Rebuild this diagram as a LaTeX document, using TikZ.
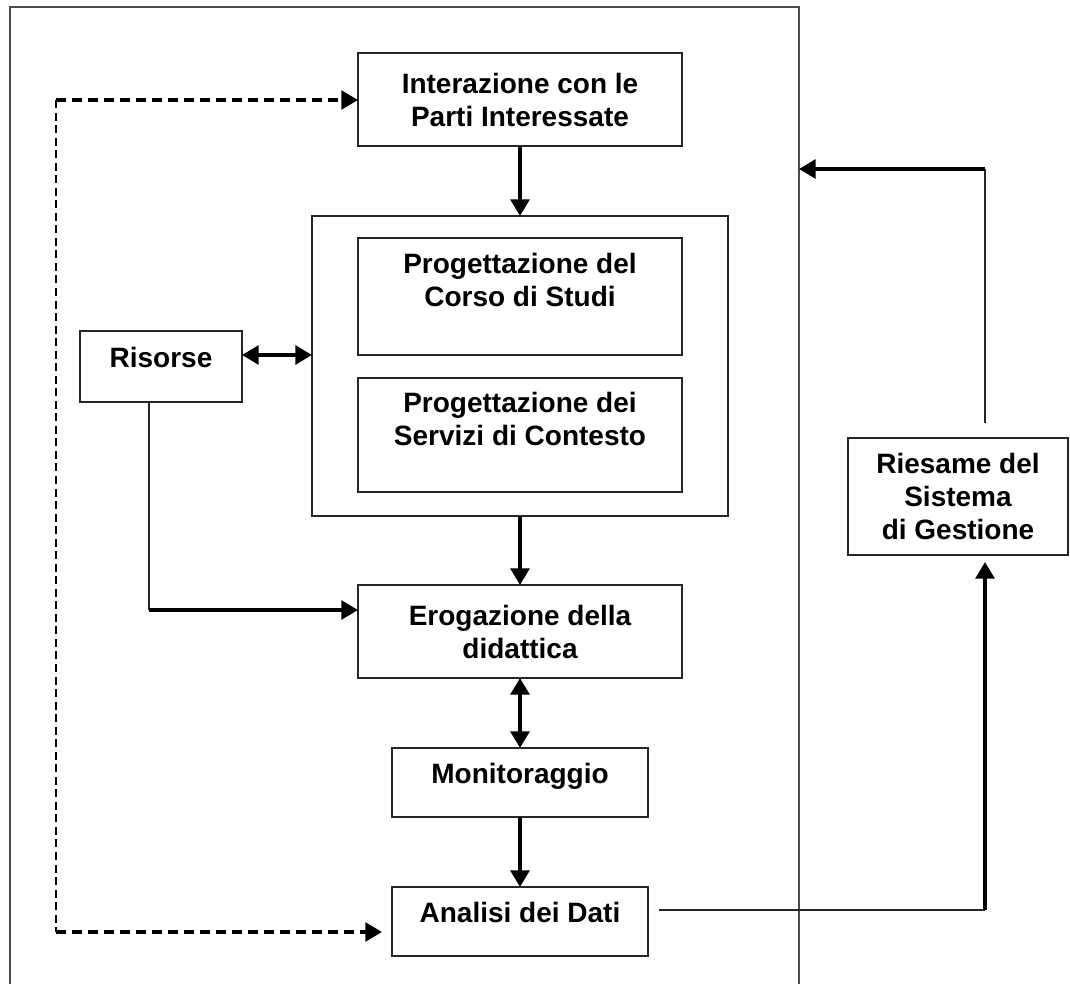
\documentclass[tikz,border=0pt]{standalone}
\usepackage{fontspec}
\setmainfont{Liberation Sans}
\usetikzlibrary{arrows.meta,calc}

\tikzset{
	box/.style={draw=black!85, line width=0.8pt, inner sep=0pt, outer sep=0pt, align=center, font=\bfseries\fontsize{21}{24.75}\selectfont},
	upper/.style={text height=15pt, text depth=13pt},
	link/.style={draw=black!85, line width=0.8pt},
	flow/.style={line width=3pt},
	dashh/.style={line width=2.6pt, dash pattern=on 7.5pt off 4.5pt},
	dashv/.style={line width=0.9pt, dash pattern=on 6pt off 3.4pt},
	>={Triangle[length=12.5pt,width=14pt]}
}

\begin{document}
\begin{tikzpicture}[x=0.75pt,y=-0.75pt]
	\useasboundingbox (0,0) rectangle (1070,984);
	% frame
	\draw[black!70, line width=1pt] (10,984) -- (10,7) -- (799,7) -- (799,984);

	\node[box, minimum width=243pt, minimum height=69.75pt] (inter) at (520,99.5) {Interazione con le\\Parti Interessate};
	\node[box, minimum width=312pt, minimum height=225pt] (design) at (520,366) {};
	\node[box, minimum width=243pt, minimum height=87.75pt] (corso) at (520,296.5) {Progettazione del\\Corso di Studi\\\mbox{}};
	\node[box, minimum width=243pt, minimum height=85.5pt] (servizi) at (520,435) {Progettazione dei\\Servizi di Contesto\\\mbox{}};
	\node[box, upper, minimum width=121.5pt, minimum height=53.25pt] (risorse) at (161,366.5) {Risorse};
	\node[box, minimum width=243pt, minimum height=69.75pt] (erog) at (520,631.5) {Erogazione della\\didattica};
	\node[box, upper, minimum width=192pt, minimum height=51.75pt] (monit) at (520,782.5) {Monitoraggio};
	\node[box, upper, minimum width=192pt, minimum height=51.75pt] (analisi) at (520,921.5) {Analisi dei Dati};
	\node[box, minimum width=165pt, minimum height=87.75pt] (riesame) at (958,496.5) {Riesame del\\Sistema\\di Gestione};

	\coordinate (dtop) at (56,100);
	\coordinate (dbot) at (56,932);
	\coordinate (rbend) at (149,610);
	\coordinate (rbot) at (985,910);
	\coordinate (rtop) at (985,169);
	\coordinate (fright) at (799,169);

	% main flow
	\draw[flow,->] (inter.south) -- (design.north);
	\draw[flow,<->] (risorse.east |- corso.south) -- (design.west |- corso.south);
	\draw[flow,->] (design.south) -- (erog.north);
	\draw[flow,<->] (erog.south) -- (monit.north);
	\draw[flow,->] (monit.south) -- (analisi.north);
	\draw[link] (rbend |- risorse.south) -- (rbend);
	\draw[flow,->] (rbend) -- (rbend -| erog.west);

	% feedback
	\draw[dashv] (dtop) -- (dbot);
	\draw[dashh,->] (dtop) -- (dtop -| inter.west);
	\draw[dashh,->] (dbot) -- ($(dbot -| analisi.west)+(-10,0)$);
	\draw[link] ($(analisi.east |- rbot)+(11,0)$) -- (rbot);
	\draw[flow,->] (rbot) -- ($(rbot |- riesame.south)+(0,7)$);
	\draw[link] ($(rtop |- riesame.north)+(0,-15)$) -- (rtop);
	\draw[flow,->] (rtop) -- (fright);
\end{tikzpicture}
\end{document}
